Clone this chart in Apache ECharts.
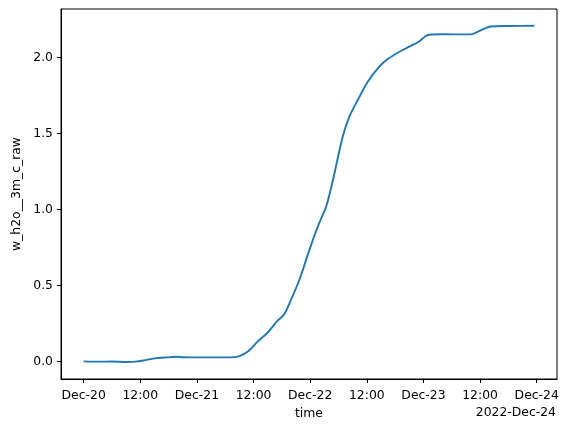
<!DOCTYPE html>
<html>
<head>
<meta charset="utf-8">
<script src="https://cdn.jsdelivr.net/npm/echarts@6/dist/echarts.min.js"></script>
<style>html,body{margin:0;padding:0;background:#fff}#c{width:571px;height:432px}</style>
</head>
<body>
<div id="c"></div>
<script>
// hours since 2022-12-20 00:00
const hours = [0, 3, 6, 9, 11, 13, 15, 17, 19.6, 21, 24, 28, 31, 33, 35, 37, 39, 41, 42.5, 44, 45.7, 47.8, 49.6, 51.4, 52.8, 53.8, 54.9, 56.3, 58.1, 60.2, 62.7, 64.5, 66.9, 69, 71, 72.5, 73.5, 75.4, 78, 82, 84, 86.3, 90, 95.5];
const values = [0, -0.002, -0.001, -0.004, -0.002, 0.008, 0.02, 0.025, 0.03, 0.027, 0.026, 0.026, 0.026, 0.035, 0.07, 0.135, 0.19, 0.265, 0.31, 0.41, 0.535, 0.73, 0.886, 1.02, 1.19, 1.33, 1.48, 1.61, 1.72, 1.84, 1.94, 1.99, 2.037, 2.07, 2.103, 2.14, 2.15, 2.152, 2.151, 2.151, 2.176, 2.203, 2.206, 2.208];
const xTickValues = [0, 12, 24, 36, 48, 60, 72, 84, 96];
const xTickLabels = ['Dec-20', '12:00', 'Dec-21', '12:00', 'Dec-22', '12:00', 'Dec-23', '12:00', 'Dec-24'];
const yTickValues = [0, 0.5, 1.0, 1.5, 2.0];
const offsetLabel = '2022-Dec-24';

const font = 'DejaVu Sans';
const chart = echarts.init(document.getElementById('c'), null, {renderer: 'canvas'});
chart.setOption({
  animation: false,
  backgroundColor: '#ffffff',
  grid: {left: 61, right: 14, top: 9, bottom: 53, show: true, borderColor: '#000', borderWidth: 1, containLabel: false},
  xAxis: {
    type: 'value', min: -4.8, max: 100.3,
    name: 'time', nameLocation: 'middle', nameGap: 29,
    nameTextStyle: {fontFamily: font, fontSize: 12.4, color: '#000'},
    axisLine: {show: true, onZero: false, lineStyle: {color: '#000', width: 1}},
    axisTick: {show: true, inside: false, length: 4, lineStyle: {color: '#000'}, customValues: xTickValues},
    axisLabel: {fontFamily: font, fontSize: 12.4, color: '#000', margin: 11, customValues: xTickValues,
      formatter: v => { const i = xTickValues.indexOf(Math.round(v)); return i >= 0 ? xTickLabels[i] : ''; }},
    splitLine: {show: false}
  },
  yAxis: {
    type: 'value', min: -0.116, max: 2.318,
    name: 'w_h2o__3m_c_raw', nameLocation: 'middle', nameGap: 38, nameRotate: 90,
    nameTextStyle: {fontFamily: font, fontSize: 12.4, color: '#000'},
    axisLine: {show: true, onZero: false, lineStyle: {color: '#000', width: 1}},
    axisTick: {show: true, inside: false, length: 4, lineStyle: {color: '#000'}, customValues: yTickValues},
    axisLabel: {fontFamily: font, fontSize: 12.4, color: '#000', margin: 8, customValues: yTickValues,
      formatter: v => v.toFixed(1)},
    splitLine: {show: false}
  },
  graphic: [{
    type: 'text', right: 15, top: 407,
    style: {text: offsetLabel, font: '12.4px "DejaVu Sans"', fill: '#000', textAlign: 'right'}
  }],
  series: [{
    type: 'line',
    data: hours.map((h, i) => [h, values[i]]),
    showSymbol: false, smooth: 0.3,
    lineStyle: {color: '#1f77b4', width: 1.9},
    itemStyle: {color: '#1f77b4'}
  }]
});
</script>
</body>
</html>
